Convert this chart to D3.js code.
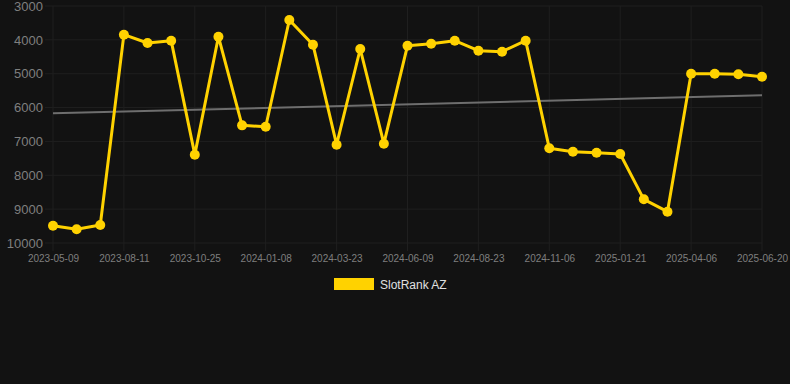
<!DOCTYPE html>
<html><head><meta charset="utf-8">
<script src="https://cdn.jsdelivr.net/npm/d3@7"></script>
<style>html,body{margin:0;padding:0;background:#121212;}svg{display:block;}</style>
</head><body>
<svg id="c" width="790" height="384"></svg>
<script>
const dates = ["2023-05-09","2023-06-09","2023-07-11","2023-08-11","2023-09-05","2023-09-30","2023-10-25","2023-11-19","2023-12-14","2024-01-08","2024-02-01","2024-02-26","2024-03-23","2024-04-18","2024-05-14","2024-06-09","2024-07-04","2024-07-29","2024-08-23","2024-09-17","2024-10-12","2024-11-06","2024-12-01","2024-12-27","2025-01-21","2025-02-14","2025-03-12","2025-04-06","2025-05-01","2025-05-26","2025-06-20"];
const ranks = [9490,9595,9468,3847,4093,4024,7391,3906,6525,6565,3413,4142,7096,4270,7066,4172,4113,4024,4320,4349,4024,7204,7303,7332,7371,8710,9075,5000,5000,5018,5088];
const yTicks = [3000,4000,5000,6000,7000,8000,9000,10000];
const seriesName = "SlotRank AZ";

const svg = d3.select("#c");
const pL = 53, pR = 762, pT = 6, pB = 243;
const x = d3.scalePoint().domain(dates).range([pL, pR]);
const y = d3.scaleLinear().domain([3000, 10000]).range([pT, pB]);
const tickDates = dates.filter((d, i) => i % 3 === 0);

// grid
const g = svg.append("g");
g.selectAll(".hg").data(yTicks).join("line")
  .attr("x1", pL - 8).attr("x2", pR).attr("y1", d => y(d)).attr("y2", d => y(d))
  .attr("stroke", "#1f1f1f").attr("stroke-width", 1);
g.selectAll(".vg").data(tickDates).join("line")
  .attr("x1", d => x(d)).attr("x2", d => x(d)).attr("y1", pT).attr("y2", pB + 8)
  .attr("stroke", "#1f1f1f").attr("stroke-width", 1);

// axes
const yAxis = d3.axisLeft(y).tickValues(yTicks).tickSize(0).tickPadding(10).tickFormat(d3.format("d"));
svg.append("g").attr("transform", `translate(${pL},0)`).call(yAxis)
  .call(a => a.select(".domain").remove())
  .selectAll("text").attr("fill", "#7f7f7f").style("font", "13px 'Liberation Sans', Arial, sans-serif");
const xAxis = d3.axisBottom(x).tickValues(tickDates).tickSize(0).tickPadding(10);
svg.append("g").attr("transform", `translate(0,${pB + 2})`).call(xAxis)
  .call(a => a.select(".domain").remove())
  .selectAll("text").attr("fill", "#7f7f7f").style("font", "10px 'Liberation Sans', Arial, sans-serif");

// trend (least squares)
const n = ranks.length, xs = d3.range(n);
const mx = d3.mean(xs), my = d3.mean(ranks);
const slope = d3.sum(xs, i => (i - mx) * (ranks[i] - my)) / d3.sum(xs, i => (i - mx) ** 2);
const icpt = my - slope * mx;
svg.append("line")
  .attr("x1", x(dates[0])).attr("y1", y(icpt))
  .attr("x2", x(dates[n - 1])).attr("y2", y(icpt + slope * (n - 1)))
  .attr("stroke", "#6e6e6e").attr("stroke-width", 2);

// series
const line = d3.line().x((d, i) => x(dates[i])).y(d => y(d));
svg.append("path").datum(ranks).attr("d", line)
  .attr("fill", "none").attr("stroke", "#FFD200").attr("stroke-width", 3).attr("stroke-linejoin", "round");
svg.selectAll(".pt").data(ranks).join("circle")
  .attr("cx", (d, i) => x(dates[i])).attr("cy", d => y(d)).attr("r", 5).attr("fill", "#FFD200");

// legend
const lg = svg.append("g");
lg.append("rect").attr("x", 334).attr("y", 278).attr("width", 40).attr("height", 12).attr("fill", "#FFD200");
lg.append("text").attr("x", 380).attr("y", 288.5).text(seriesName)
  .attr("fill", "#e0e0e0").style("font", "12px 'Liberation Sans', Arial, sans-serif");
</script>
</body></html>
